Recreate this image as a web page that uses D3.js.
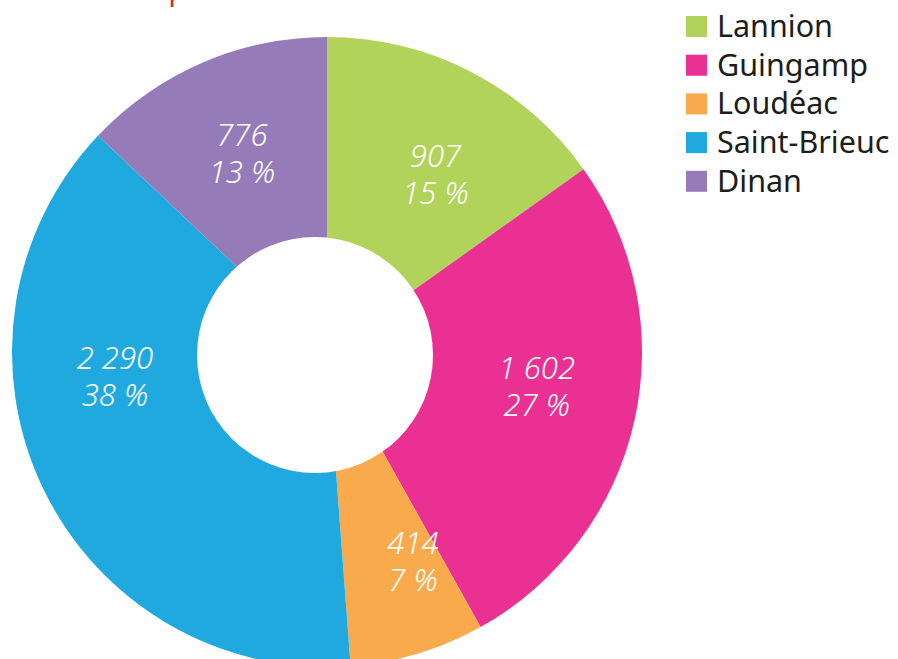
<!DOCTYPE html>
<html>
<head>
<meta charset="utf-8">
<script src="https://cdn.jsdelivr.net/npm/d3@7"></script>
<style>
  body { margin: 0; background: #fff; }
  svg { display: block; font-family: "Noto Sans", "Open Sans", sans-serif; }
</style>
</head>
<body>
<svg width="898" height="659"></svg>
<script>
var svg = d3.select('svg');
var width = 898;
var height = 659;

// data
var categories = ['Lannion', 'Guingamp', 'Loudéac', 'Saint-Brieuc', 'Dinan'];
var values = [907, 1602, 414, 2290, 776];
var percents = [15, 27, 7, 38, 13];
var colors = ['#b2d35a', '#ea3093', '#f9aa4c', '#1fa9df', '#957bb7'];

var title = 'Répartition par arrondissement du département';

var cx = 327, cy = 352, radius = 315;
var holeR = 118;

var color = d3.scaleOrdinal().domain(categories).range(colors);
var fmt = d3.formatLocale({ decimal: ',', thousands: '\u00a0', grouping: [3], currency: ['', ' €'] }).format(',d');

var rows = categories.map(function(c, i) {
  return { name: c, value: values[i], pct: percents[i] };
});

// title, mostly cut off by the top of the frame
svg.append('text')
  .attr('x', 318)
  .attr('y', -0.5)
  .attr('text-anchor', 'end')
  .attr('fill', '#d52b2f')
  .style('font-size', '30px')
  .text(title);

var pie = d3.pie().sort(null).value(function(d) { return d.value; });
var arc = d3.arc().innerRadius(0).outerRadius(radius);
var labelArc = d3.arc().innerRadius(215).outerRadius(215);

var g = svg.append('g').attr('transform', 'translate(' + cx + ',' + cy + ')');

var arcs = pie(rows);

g.selectAll('path.slice')
  .data(arcs)
  .enter()
  .append('path')
  .attr('class', 'slice')
  .attr('d', arc)
  .attr('fill', function(d) { return color(d.data.name); });

// white hole, sits a little left of the pie centre
g.append('circle')
  .attr('cx', -12)
  .attr('cy', 3)
  .attr('r', holeR)
  .attr('fill', '#fff');

// hand nudges for the labels that are not on the centroid
var nudge = { 'Saint-Brieuc': [-18, -66], 'Loudéac': [24, 5], 'Lannion': [10, 15], 'Guingamp': [0, -11] };

var labels = g.selectAll('g.label')
  .data(arcs)
  .enter()
  .append('g')
  .attr('class', 'label')
  .attr('transform', function(d) {
    var c = labelArc.centroid(d);
    var n = nudge[d.data.name] || [0, 0];
    return 'translate(' + (c[0] + n[0]) + ',' + (c[1] + n[1]) + ')';
  });

labels.append('text')
  .attr('text-anchor', 'middle')
  .attr('y', -9)
  .attr('fill', '#fff')
  .style('font-size', '31px')
  .style('font-style', 'italic')
  .style('font-weight', 300)
  .text(function(d) { return fmt(d.data.value); });

labels.append('text')
  .attr('text-anchor', 'middle')
  .attr('y', 28)
  .attr('fill', '#fff')
  .style('font-size', '31px')
  .style('font-style', 'italic')
  .style('font-weight', 300)
  .text(function(d) { return d.data.pct + '\u00a0%'; });

// legend
var legend = svg.append('g').attr('transform', 'translate(686,16)');
var item = legend.selectAll('g')
  .data(categories)
  .enter()
  .append('g')
  .attr('transform', function(d, i) { return 'translate(0,' + (i * 38.7) + ')'; });

item.append('rect')
  .attr('width', 21)
  .attr('height', 21)
  .attr('fill', function(d) { return color(d); });

item.append('text')
  .attr('x', 31)
  .attr('y', 21)
  .attr('fill', '#1d1d1b')
  .style('font-size', '30.5px')
  .text(function(d) { return d; });
</script>
</body>
</html>
